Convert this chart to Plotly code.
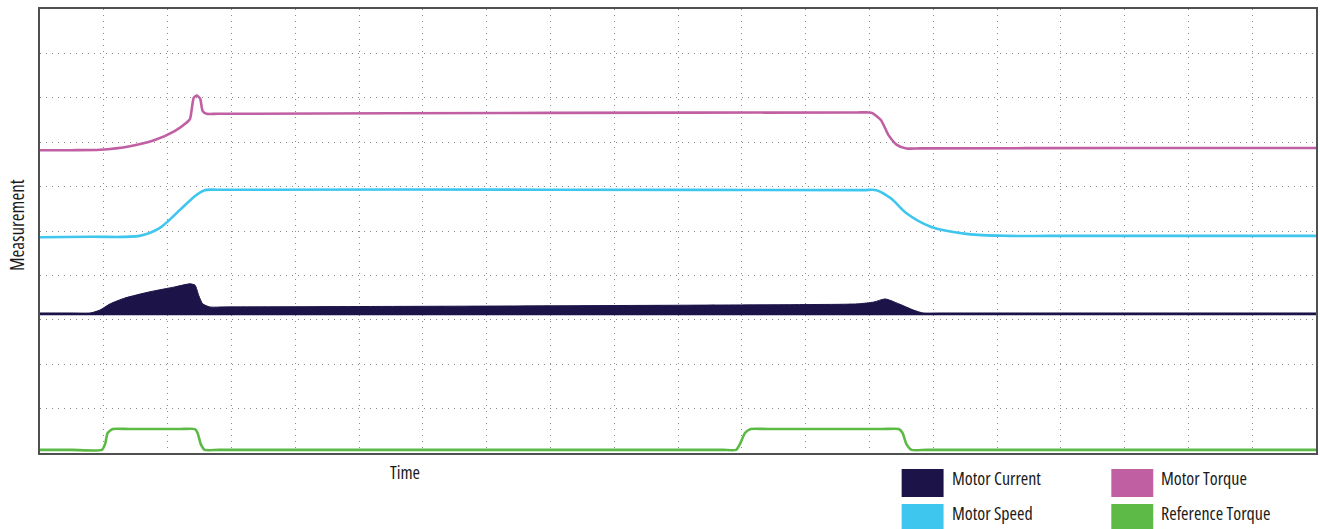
import plotly.graph_objects as go

# time axis and signals, in grid units (20 x 10 divisions)
torque_t = [0.0, 0.5, 0.94, 1.41, 1.80, 2.11, 2.28, 2.35, 2.41, 2.46, 2.51, 2.55, 2.61, 2.8, 8.0, 12.8, 12.99, 13.04, 13.18, 13.30, 13.43, 13.58, 13.8, 17.0, 20.0]
torque_v = [6.82, 6.82, 6.83, 6.91, 7.05, 7.25, 7.42, 7.52, 8.00, 8.05, 7.98, 7.70, 7.64, 7.64, 7.66, 7.67, 7.67, 7.66, 7.50, 7.16, 6.94, 6.86, 6.86, 6.87, 6.87]

speed_t = [0.0, 0.8, 1.56, 1.88, 2.19, 2.43, 2.58, 2.8, 8.0, 12.9, 13.11, 13.35, 13.57, 13.97, 14.55, 15.18, 15.8, 18.0, 20.0]
speed_v = [4.86, 4.87, 4.89, 5.07, 5.47, 5.79, 5.92, 5.93, 5.93, 5.92, 5.92, 5.72, 5.41, 5.09, 4.93, 4.89, 4.89, 4.89, 4.89]

current_t = [0.0, 0.5, 0.78, 0.94, 1.10, 1.33, 1.72, 2.11, 2.35, 2.43, 2.49, 2.55, 2.66, 2.9, 7.2, 12.6, 12.83, 13.07, 13.25, 13.46, 13.69, 13.85, 14.1, 17.0, 20.0]
current_v = [3.15, 3.15, 3.15, 3.22, 3.36, 3.49, 3.63, 3.74, 3.81, 3.78, 3.54, 3.36, 3.29, 3.29, 3.31, 3.35, 3.36, 3.40, 3.47, 3.36, 3.22, 3.15, 3.15, 3.15, 3.15]
current_base = 3.13

ref_t = [0.0, 0.5, 0.97, 1.02, 1.06, 1.14, 1.4, 2.2, 2.43, 2.47, 2.52, 2.58, 2.8, 6.5, 10.7, 10.91, 10.97, 11.05, 11.14, 11.4, 13.2, 13.46, 13.52, 13.58, 13.66, 13.9, 17.0, 20.0]
ref_v = [0.07, 0.07, 0.07, 0.20, 0.45, 0.54, 0.54, 0.54, 0.54, 0.45, 0.20, 0.07, 0.07, 0.07, 0.07, 0.07, 0.20, 0.45, 0.54, 0.54, 0.54, 0.54, 0.45, 0.20, 0.07, 0.07, 0.07, 0.07]

legend_names = ["Motor Current", "Motor Speed", "Motor Torque", "Reference Torque"]
legend_colors = ["#1c1449", "#3ec6ef", "#c060a3", "#5dba47"]

FONT = "Open Sans, Liberation Sans, sans-serif"

fig = go.Figure()

fig.add_trace(go.Scatter(x=[0, 20], y=[current_base, current_base], mode="lines",
                         line=dict(color="#1c1449", width=2.5), hoverinfo="skip"))
fig.add_trace(go.Scatter(x=current_t, y=current_v, mode="lines", fill="tonexty",
                         fillcolor="#1c1449", line=dict(color="#1c1449", width=1, shape="spline", smoothing=0.6)))
fig.add_trace(go.Scatter(x=speed_t, y=speed_v, mode="lines",
                         line=dict(color="#3ec6ef", width=2.6, shape="spline", smoothing=0.8)))
fig.add_trace(go.Scatter(x=torque_t, y=torque_v, mode="lines",
                         line=dict(color="#c060a3", width=2.6, shape="spline", smoothing=0.6)))
fig.add_trace(go.Scatter(x=ref_t, y=ref_v, mode="lines",
                         line=dict(color="#5dba47", width=2.6, shape="spline", smoothing=0.5)))

grid = dict(showgrid=True, gridcolor="#8a8a8a", gridwidth=1, griddash="1px,5px",
            showline=True, linecolor="#505050", linewidth=1.6, mirror=True,
            showticklabels=False, ticks="", zeroline=False, fixedrange=True)
fig.update_xaxes(range=[0, 20], dtick=1, **grid)
fig.update_yaxes(range=[0, 10], dtick=1, **grid)

# legend drawn as swatches + labels, 2 x 2 grid
L, W, T, H = 40, 1278, 9, 444
def px(x):
    return (x - L) / W
def py(y):
    return (T + H - y) / H

sw_x = [903, 903, 1113, 1113]
sw_y = [469, 504, 469, 504]
shapes = []
annots = []
for name, col, x0, y0 in zip(legend_names, legend_colors, sw_x, sw_y):
    shapes.append(dict(type="rect", xref="paper", yref="paper", x0=px(x0), x1=px(x0 + 42),
                       y0=py(y0), y1=py(y0 + 28), fillcolor=col, line=dict(width=0)))
    annots.append(dict(text=name, xref="paper", yref="paper", x=px(x0 + 48), y=py(y0 + 9),
                       xanchor="left", yanchor="middle", showarrow=False,
                       font=dict(size=18, color="#1a1a1a", family=FONT)))

annots.append(dict(text="Time", xref="paper", yref="paper", x=px(406), y=py(472),
                   xanchor="center", yanchor="middle", showarrow=False,
                   font=dict(size=18, color="#1a1a1a", family=FONT)))
annots.append(dict(text="Measurement", xref="paper", yref="paper", x=px(17), y=py(225),
                   xanchor="center", yanchor="middle", showarrow=False, textangle=-90,
                   font=dict(size=19, color="#1a1a1a", family=FONT)))

fig.update_layout(width=1320, height=529, margin=dict(l=40, r=2, t=9, b=76),
                  plot_bgcolor="white", paper_bgcolor="white", showlegend=False,
                  shapes=shapes, annotations=annots, font=dict(family=FONT))

# condensed face for the labels, then re-measure the annotations
post = ("document.body.style.margin='0';document.body.style.overflow='hidden';"
        "var st=document.createElement('style');"
        "st.textContent='text{font-stretch:75% !important;}';"
        "document.head.appendChild(st);"
        "var gd=document.getElementById('{plot_id}');"
        "var anns=gd.layout.annotations.map(function(a){var b=JSON.parse(JSON.stringify(a));"
        "b.font.family=b.font.family+', Arial';return b;});"
        "Plotly.relayout(gd,{annotations:anns,width:1320,height:529});")
fig.write_html("out.html", post_script=post, config={"displayModeBar": False})
